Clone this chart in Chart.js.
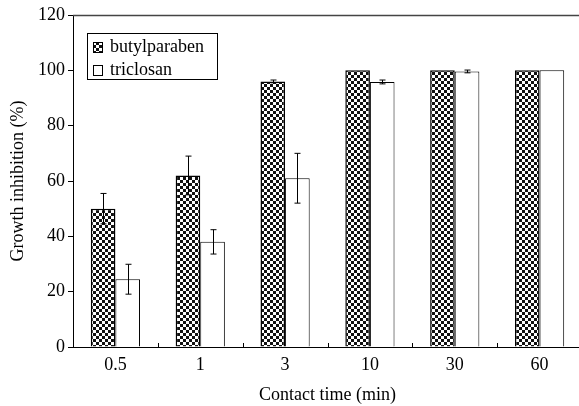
<!DOCTYPE html>
<html>
<head>
<meta charset="utf-8">
<script src="https://cdn.jsdelivr.net/npm/chart.js@4/dist/chart.umd.min.js"></script>
<style>
html,body{margin:0;padding:0;background:#fff;overflow:hidden;}
#wrap{width:585px;height:406px;}
</style>
</head>
<body>
<div id="wrap"><canvas id="c" width="585" height="406"></canvas></div>
<script>
const categories = ['0.5', '1', '3', '10', '30', '60'];
const butylparaben = [50, 62, 96, 100, 100, 100];
const butylparabenErr = [5.5, 7, 0.5, 0, 0, 0];
const triclosan = [24.5, 38, 61, 95.8, 99.6, 100];
const triclosanErr = [5.4, 4.4, 9, 0.7, 0.5, 0];
const seriesNames = ['butylparaben', 'triclosan'];
const yTicks = [0, 20, 40, 60, 80, 100, 120];

const FONT = '"Liberation Serif", "Times New Roman", serif';

function makeChecker() {
  const p = document.createElement('canvas');
  p.width = 6; p.height = 6;
  const g = p.getContext('2d');
  g.fillStyle = '#fff'; g.fillRect(0, 0, 6, 6);
  g.fillStyle = '#111';
  g.fillRect(0, 0, 3, 3);
  g.fillRect(3, 3, 3, 3);
  return document.getElementById('c').getContext('2d').createPattern(p, 'repeat');
}
const checker = makeChecker();
const errs = [butylparabenErr, triclosanErr];

const errorBars = {
  id: 'errorBars',
  afterDatasetsDraw(chart) {
    const ctx = chart.ctx;
    const y = chart.scales.y;
    ctx.save();
    ctx.strokeStyle = '#000';
    ctx.lineWidth = 1;
    chart.data.datasets.forEach((ds, i) => {
      const meta = chart.getDatasetMeta(i);
      meta.data.forEach((bar, j) => {
        const e = errs[i][j];
        if (!e) return;
        const v = ds.data[j];
        const x = Math.round(bar.x) + 0.5;
        const yt = y.getPixelForValue(v + e);
        const yb = y.getPixelForValue(v - e);
        ctx.beginPath();
        ctx.moveTo(x, yt); ctx.lineTo(x, yb);
        ctx.moveTo(x - 3, yt); ctx.lineTo(x + 3, yt);
        ctx.moveTo(x - 3, yb); ctx.lineTo(x + 3, yb);
        ctx.stroke();
      });
    });
    ctx.restore();
  }
};

const frame = {
  id: 'frame',
  afterDraw(chart) {
    const ctx = chart.ctx;
    const a = chart.chartArea;
    const xs = chart.scales.x;
    ctx.save();
    ctx.strokeStyle = '#444';
    ctx.lineWidth = 1.5;
    ctx.beginPath();
    ctx.moveTo(a.left, a.top + 0.5);
    ctx.lineTo(a.right, a.top + 0.5);
    ctx.stroke();
    // inward x ticks at category boundaries
    const half = (xs.getPixelForValue(1) - xs.getPixelForValue(0)) / 2;
    ctx.strokeStyle = '#000';
    ctx.lineWidth = 1;
    ctx.beginPath();
    for (let i = 1; i < categories.length; i++) {
      const bx = Math.round(xs.getPixelForValue(i) - half) + 0.5;
      ctx.moveTo(bx, a.bottom);
      ctx.lineTo(bx, a.bottom - 4);
    }
    ctx.stroke();
    // legend
    const lx = a.left + 14, ly = a.top + 18;
    ctx.fillStyle = '#fff';
    ctx.fillRect(lx, ly, 130, 46);
    ctx.strokeRect(lx + 0.5, ly + 0.5, 130, 46);
    ctx.font = '18px ' + FONT;
    ctx.textBaseline = 'middle';
    ctx.textAlign = 'left';
    const fills = [checker, '#fff'];
    seriesNames.forEach((n, i) => {
      const cy = ly + 14 + i * 23;
      ctx.fillStyle = fills[i];
      ctx.fillRect(lx + 6, cy - 5, 9, 10);
      ctx.strokeRect(lx + 6.5, cy - 4.5, 9, 10);
      ctx.fillStyle = '#000';
      ctx.fillText(n, lx + 23, cy);
    });
    ctx.restore();
  }
};

new Chart(document.getElementById('c'), {
  type: 'bar',
  data: {
    labels: categories,
    datasets: [
      { label: seriesNames[0], data: butylparaben, backgroundColor: checker, borderColor: '#000', borderWidth: 1.5 },
      { label: seriesNames[1], data: triclosan, backgroundColor: '#fff', borderColor: '#000', borderWidth: 1 }
    ]
  },
  options: {
    responsive: false,
    animation: false,
    layout: { padding: { left: 0, top: 15, right: 3, bottom: 0 } },
    datasets: { bar: { categoryPercentage: 0.58, barPercentage: 1 } },
    plugins: { legend: { display: false }, tooltip: { enabled: false } },
    scales: {
      x: {
        grid: { display: false, drawTicks: false },
        border: { color: '#000', width: 1 },
        ticks: { color: '#000', font: { family: FONT, size: 18 }, padding: 7 },
        title: { display: true, text: 'Contact time (min)', color: '#000', font: { family: FONT, size: 18 }, padding: { top: 0, bottom: 0 } },
        afterFit(s) { s.height = 59; }
      },
      y: {
        min: 0, max: 120,
        afterBuildTicks(s) { s.ticks = yTicks.map(v => ({ value: v })); },
        grid: { display: true, drawOnChartArea: false, tickLength: 5, color: '#000' },
        border: { color: '#000', width: 1 },
        ticks: { color: '#000', font: { family: FONT, size: 18 }, padding: 3 },
        title: { display: true, text: 'Growth inhibition (%)', color: '#000', font: { family: FONT, size: 18 }, padding: { top: 7, bottom: 0 } },
        afterFit(s) { s.width = 73; }
      }
    }
  },
  plugins: [errorBars, frame]
});
</script>
</body>
</html>
